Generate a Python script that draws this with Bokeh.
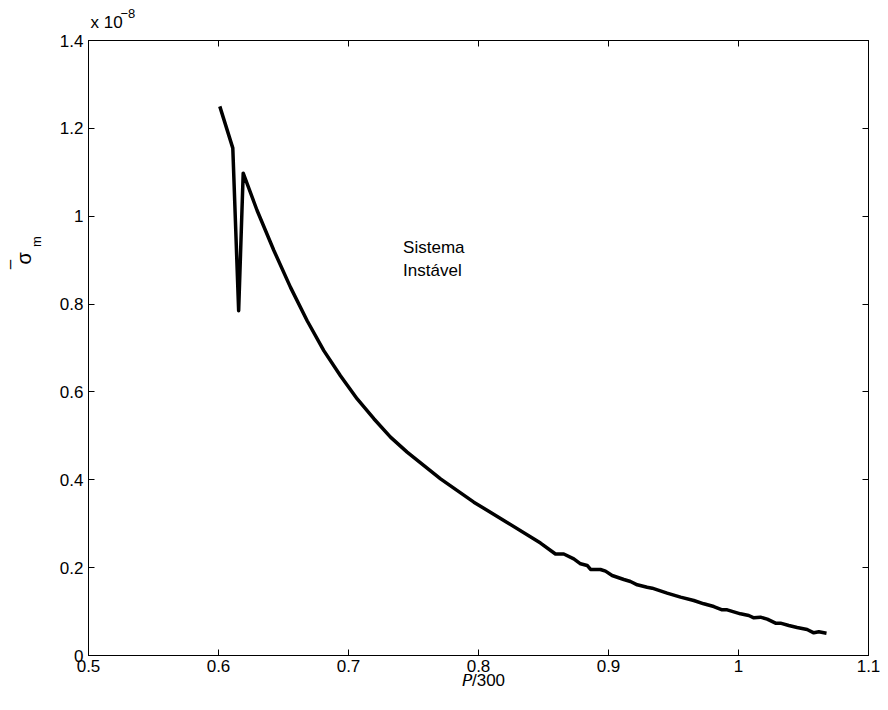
import math
from bokeh.plotting import figure
from bokeh.models import (Range1d, LinearAxis, FixedTicker, CustomJSTickFormatter,
                          Label)
from bokeh.embed import file_html
from bokeh.resources import INLINE

# ---- data (sigma_m in units of 1e-8) ----
p_norm = [0.601, 0.611, 0.6155, 0.619,
          0.6297, 0.6426, 0.6554, 0.6682, 0.681, 0.6938, 0.7067, 0.7195,
          0.7323, 0.7451, 0.7708, 0.7964, 0.822, 0.8477, 0.8592, 0.8656,
          0.8733, 0.8785, 0.8836, 0.8862, 0.8938, 0.8977, 0.9028, 0.9118,
          0.9169, 0.9221, 0.9297, 0.9336, 0.9451, 0.9554, 0.9656, 0.9733,
          0.9810, 0.9874, 0.9913, 1.0015, 1.0079, 1.0118, 1.0169, 1.0221,
          1.0285, 1.0323, 1.0387, 1.0451, 1.0528, 1.0579, 1.0618, 1.0677]
sigma_m = [1.250, 1.155, 0.785, 1.098,
           1.013, 0.922, 0.838, 0.762, 0.694, 0.637, 0.584, 0.539,
           0.497, 0.463, 0.402, 0.349, 0.303, 0.256, 0.231, 0.231,
           0.220, 0.2087, 0.2049, 0.1958, 0.1958, 0.1920, 0.1821, 0.1730,
           0.1685, 0.1609, 0.1555, 0.1533, 0.1419, 0.1328, 0.1252, 0.1177,
           0.1115, 0.1040, 0.1040, 0.0949, 0.0911, 0.0858, 0.0873, 0.0827,
           0.0736, 0.0736, 0.0683, 0.0637, 0.0592, 0.0516, 0.0539, 0.0508]

x_ticks = [0.5, 0.6, 0.7, 0.8, 0.9, 1.0, 1.1]
y_ticks = [0, 0.2, 0.4, 0.6, 0.8, 1.0, 1.2, 1.4]

FONT = "Liberation Sans, DejaVu Sans"
FS = "17px"

p = figure(width=880, height=702, output_backend="svg", toolbar_location=None,
           title_location=None,
           x_range=Range1d(0.5, 1.1), y_range=Range1d(0, 1.4))
p.min_border_left = 88
p.min_border_right = 12
p.min_border_top = 40
p.min_border_bottom = 47
p.xgrid.visible = False
p.ygrid.visible = False
p.outline_line_color = "black"
p.outline_line_width = 1
p.background_fill_color = "white"
p.border_fill_color = "white"

fmt = CustomJSTickFormatter(code="return tick.toString();")
blank = CustomJSTickFormatter(code="return '';")

def style(ax, ticks, formatter, show):
    ax.ticker = FixedTicker(ticks=ticks)
    ax.formatter = formatter
    ax.minor_tick_line_color = None
    ax.major_tick_in = 6
    ax.major_tick_out = 0
    ax.axis_line_color = "black"
    ax.major_tick_line_color = "black"
    ax.major_label_text_font = FONT
    ax.major_label_text_font_size = FS if show else "1px"
    ax.major_label_text_color = "black"
    ax.axis_label = None

for ax in p.xaxis:
    style(ax, x_ticks, fmt, True)
    ax.major_label_standoff = 4
for ax in p.yaxis:
    style(ax, y_ticks, fmt, True)
    ax.major_label_standoff = 5

top = LinearAxis()
style(top, x_ticks, blank, False)
top.major_label_standoff = 0
p.add_layout(top, "above")
right = LinearAxis()
style(right, y_ticks, blank, False)
right.major_label_standoff = 0
p.add_layout(right, "right")

p.line(p_norm, sigma_m, line_color="black", line_width=3.5, line_join="round")

def lab(text, x, y, xo=0, yo=0, size=FS, align="left", baseline="middle",
        angle=0.0, where=None):
    l = Label(x=x, y=y, x_offset=xo, y_offset=yo, text=text, text_font=FONT,
              text_font_size=size, text_font_style="normal", text_align=align,
              text_baseline=baseline, text_color="black", angle=angle,
              angle_units="rad")
    if where is None:
        p.add_layout(l)
    else:
        p.add_layout(l, where)

# annotation inside the axes
lab("Sistema", 0.742, 0.929)
lab("Instável", 0.742, 0.876)

# exponent above the axes
lab("x 10", 0.5, 1.4, xo=2, yo=18, where="above")
lab("\u22128", 0.5, 1.4, xo=32, yo=27, size="13px", where="above")

# x label (italic sans-serif P)
lab("\U0001D617/300", 0.8, 0.0, xo=5, yo=-25, align="center", where="below")

# y label: bar over sigma, subscript m (rotated)
lab("\u2013", 0.5, 0.89, xo=-79, align="center", angle=math.pi / 2, where="left")
lab("\u03c3", 0.5, 0.904, xo=-65, size="20px", align="center",
    angle=math.pi / 2, where="left")
lab("m", 0.5, 0.942, xo=-52, size="13px", align="center",
    angle=math.pi / 2, where="left")

open("out.html", "w").write(file_html(p, INLINE))
